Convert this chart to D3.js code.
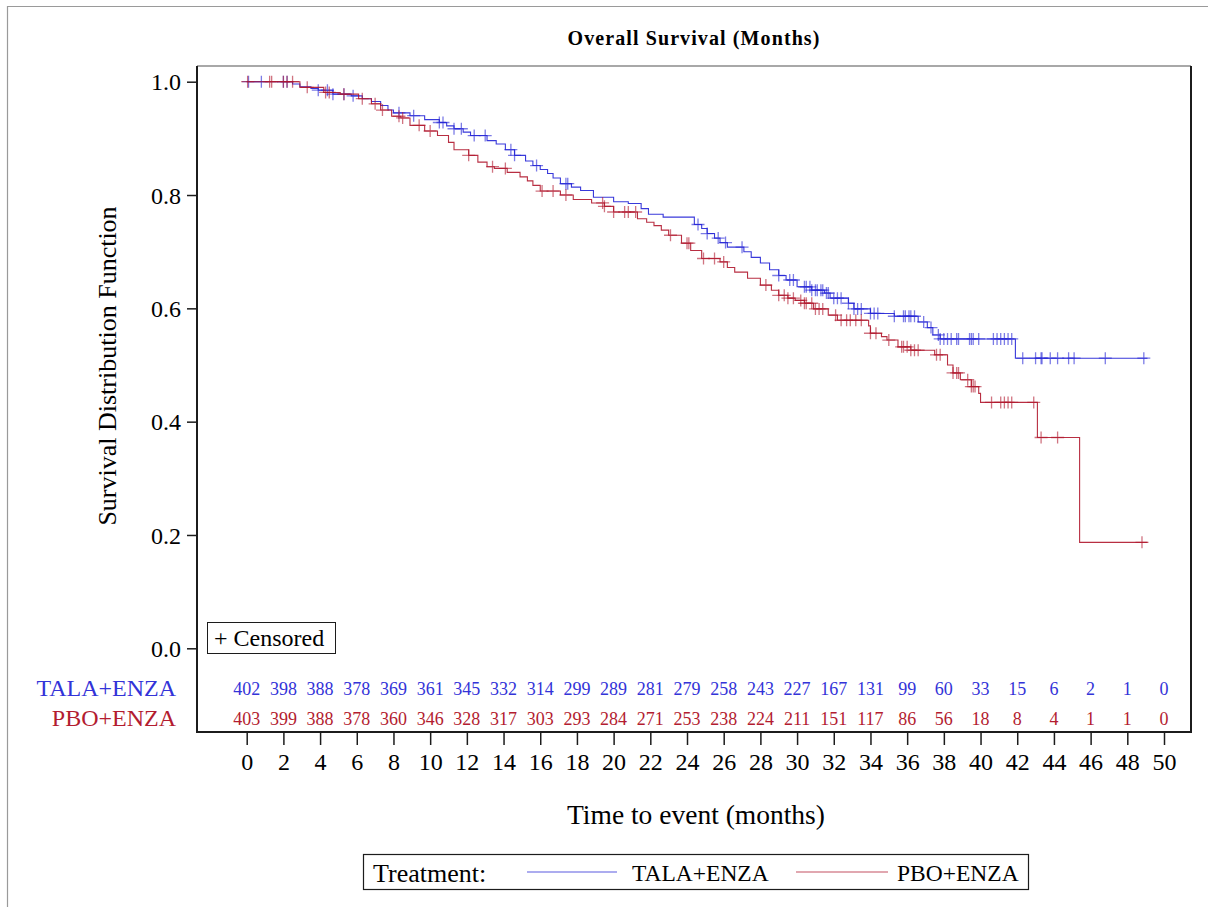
<!DOCTYPE html>
<html>
<head>
<meta charset="utf-8">
<script src="https://cdn.jsdelivr.net/npm/d3@7"></script>
<style>
  html, body { margin: 0; padding: 0; background: #fff; }
  svg { display: block; font-family: "Liberation Serif", "Times New Roman", serif; }
</style>
</head>
<body>
<svg id="chart" width="1208" height="907"></svg>
<script>
// Kaplan-Meier step points: time (months) and survival after each event
const talaTime = [0, 2.5, 2.9, 3.5, 3.9, 4.7, 5.7, 6.3, 6.8, 7.3, 7.7, 8.0, 8.9, 9.7, 10.5, 10.9, 11.3, 11.8, 12.2, 13.1, 13.6, 14.1, 14.6, 15.2, 15.6, 16.0, 16.4, 16.7, 17.1, 17.7, 18.2, 18.9, 20.0, 20.8, 21.5, 21.9, 22.7, 24.4, 24.8, 25.1, 25.5, 25.8, 26.2, 27.1, 27.5, 28.0, 28.5, 29.0, 29.4, 30.0, 30.8, 31.5, 31.8, 32.8, 33.1, 34.0, 35.3, 36.6, 37.1, 37.4, 37.8, 41.9];
const talaSurv = [1.0, 0.996, 0.991, 0.988, 0.985, 0.978, 0.975, 0.970, 0.965, 0.958, 0.950, 0.945, 0.940, 0.933, 0.928, 0.922, 0.917, 0.911, 0.905, 0.896, 0.890, 0.880, 0.870, 0.860, 0.852, 0.845, 0.838, 0.830, 0.820, 0.814, 0.808, 0.796, 0.788, 0.785, 0.776, 0.766, 0.761, 0.748, 0.741, 0.732, 0.724, 0.716, 0.708, 0.700, 0.690, 0.680, 0.668, 0.658, 0.650, 0.638, 0.632, 0.627, 0.618, 0.609, 0.599, 0.591, 0.586, 0.576, 0.566, 0.553, 0.546, 0.512];
const talaEnd = 49.1;

const pboTime = [0, 2.9, 4.2, 5.1, 6.1, 6.8, 7.3, 7.9, 8.4, 8.9, 9.7, 10.4, 11.0, 11.3, 12.1, 12.6, 13.1, 13.5, 14.2, 14.9, 15.3, 15.6, 16.0, 17.1, 17.8, 18.8, 19.5, 20.0, 21.3, 21.8, 22.2, 22.6, 23.0, 23.7, 24.2, 24.8, 25.8, 26.2, 26.6, 27.3, 28.0, 28.6, 29.0, 29.5, 29.9, 30.4, 30.9, 31.7, 32.2, 33.9, 34.0, 34.6, 34.9, 35.5, 36.2, 37.5, 38.2, 38.5, 38.9, 39.5, 39.9, 40.0, 43.1, 45.4];
const pboSurv = [1.0, 0.990, 0.981, 0.978, 0.970, 0.961, 0.950, 0.939, 0.936, 0.923, 0.913, 0.905, 0.893, 0.880, 0.870, 0.858, 0.850, 0.847, 0.840, 0.832, 0.825, 0.817, 0.807, 0.800, 0.792, 0.786, 0.780, 0.770, 0.758, 0.752, 0.746, 0.738, 0.729, 0.715, 0.702, 0.688, 0.682, 0.672, 0.664, 0.653, 0.641, 0.632, 0.623, 0.618, 0.614, 0.609, 0.599, 0.588, 0.579, 0.569, 0.556, 0.550, 0.544, 0.532, 0.526, 0.518, 0.500, 0.486, 0.474, 0.462, 0.450, 0.434, 0.372, 0.187];
const pboEnd = 49.1;

// Censoring times (months)
const talaCensor = [0.1, 0.8, 2.0, 2.2, 3.9, 4.4, 4.7, 5.3, 5.8, 8.3, 9.1, 10.5, 10.7, 11.3, 11.7, 12.4, 13.0, 14.4, 14.6, 15.8, 17.4, 17.5, 24.6, 25.1, 25.7, 26.1, 27.0, 29.0, 29.6, 29.8, 30.4, 30.5, 30.7, 30.8, 31.0, 31.1, 31.3, 31.4, 31.6, 31.7, 32.0, 32.2, 32.4, 32.8, 33.1, 33.3, 33.5, 34.0, 34.2, 34.4, 35.3, 35.8, 35.9, 36.1, 36.2, 36.4, 36.9, 37.3, 37.7, 37.8, 38.0, 38.2, 38.4, 38.7, 38.8, 39.4, 39.5, 39.6, 39.9, 40.7, 40.9, 41.1, 41.3, 41.5, 41.7, 42.3, 43.0, 43.3, 43.35, 43.8, 44.2, 44.8, 45.1, 46.8, 48.9];
const pboCensor = [0.05, 1.25, 1.36, 2.0, 2.2, 2.5, 3.3, 4.3, 4.5, 5.3, 6.3, 7.0, 7.4, 8.3, 8.5, 9.4, 10.0, 12.1, 13.4, 14.1, 16.1, 16.7, 17.4, 19.4, 19.5, 20.0, 20.6, 20.8, 21.2, 23.1, 24.0, 24.1, 24.9, 25.5, 26.0, 28.3, 29.0, 29.3, 29.5, 29.8, 30.2, 30.4, 30.5, 30.8, 31.0, 31.2, 31.4, 32.1, 32.4, 32.7, 32.9, 33.2, 33.5, 34.0, 34.3, 35.0, 35.7, 35.8, 36.0, 36.2, 36.4, 36.6, 37.6, 37.8, 38.5, 38.7, 38.8, 39.3, 39.5, 39.6, 39.7, 40.6, 41.1, 41.3, 41.5, 41.7, 42.9, 43.3, 44.2, 48.8];

// Number at risk
const riskTimes = d3.range(0, 51, 2);
const talaRisk = [402, 398, 388, 378, 369, 361, 345, 332, 314, 299, 289, 281, 279, 258, 243, 227, 167, 131, 99, 60, 33, 15, 6, 2, 1, 0];
const pboRisk = [403, 399, 388, 378, 360, 346, 328, 317, 303, 293, 284, 271, 253, 238, 224, 211, 151, 117, 86, 56, 18, 8, 4, 1, 1, 0];

const yTicks = [0, 0.2, 0.4, 0.6, 0.8, 1.0];
const xTicks = d3.range(0, 51, 2);

const groups = [
  { name: "TALA+ENZA", time: talaTime, surv: talaSurv, end: talaEnd, censor: talaCensor, risk: talaRisk,
    line: "#2424d6", text: "#3333d8" },
  { name: "PBO+ENZA", time: pboTime, surv: pboSurv, end: pboEnd, censor: pboCensor, risk: pboRisk,
    line: "#b0172d", text: "#b31c30" }
];

const svg = d3.select("#chart");

// page border
svg.append("line").attr("x1", 7).attr("x2", 1208).attr("y1", 6.5).attr("y2", 6.5)
  .attr("stroke", "#9a9a9a").attr("stroke-width", 1.2);
svg.append("line").attr("x1", 7.5).attr("x2", 7.5).attr("y1", 6).attr("y2", 907)
  .attr("stroke", "#9a9a9a").attr("stroke-width", 1.2);

const frame = { left: 197, top: 66, right: 1191, bottom: 732 };
const x = d3.scaleLinear().domain([0, 50]).range([246.7, 1164]);
const y = d3.scaleLinear().domain([0, 1]).range([648.3, 81.7]);

// title
svg.append("text").attr("x", 694).attr("y", 45).attr("text-anchor", "middle")
  .attr("font-size", 20).attr("font-weight", "bold").attr("letter-spacing", 1.1)
  .text("Overall Survival (Months)");

// frame
svg.append("line").attr("x1", frame.left).attr("x2", frame.right).attr("y1", frame.top).attr("y2", frame.top)
  .attr("stroke", "#a8a8a8").attr("stroke-width", 2);
svg.append("path")
  .attr("d", `M${frame.left},${frame.top}V${frame.bottom}H${frame.right}V${frame.top}`)
  .attr("fill", "none").attr("stroke", "#1c1c1c").attr("stroke-width", 2);

// y axis
const yAxis = svg.append("g").attr("transform", `translate(${frame.left},0)`)
  .call(d3.axisLeft(y).tickValues(yTicks).tickFormat(d3.format(".1f")).tickSize(10).tickPadding(6));
yAxis.select(".domain").remove();
yAxis.selectAll(".tick line").attr("stroke", "#1c1c1c").attr("stroke-width", 1.5);
yAxis.selectAll(".tick text").attr("font-size", 24).attr("font-family", "Liberation Serif")
  .attr("fill", "#000").attr("dy", "0.34em");

// x axis
const xAxis = svg.append("g").attr("transform", `translate(0,${frame.bottom})`)
  .call(d3.axisBottom(x).tickValues(xTicks).tickFormat(d3.format("d")).tickSize(13).tickPadding(8));
xAxis.select(".domain").remove();
xAxis.selectAll(".tick line").attr("stroke", "#1c1c1c").attr("stroke-width", 1.5);
xAxis.selectAll(".tick text").attr("font-size", 24).attr("font-family", "Liberation Serif")
  .attr("fill", "#000");

// axis titles
svg.append("text").attr("x", 696).attr("y", 824).attr("text-anchor", "middle")
  .attr("font-size", 27.5).text("Time to event (months)");
svg.append("text").attr("transform", "translate(116,366) rotate(-90)").attr("text-anchor", "middle")
  .attr("font-size", 26).text("Survival Distribution Function");

// survival curves and censor marks
const stepLine = d3.line().x(d => x(d[0])).y(d => y(d[1])).curve(d3.curveStepAfter);
function survAt(g, t) {
  const i = d3.bisectRight(g.time, t) - 1;
  return g.surv[Math.max(0, i)];
}
const plot = svg.append("g");
groups.forEach(g => {
  const pts = g.time.map((t, i) => [t, g.surv[i]]);
  pts.push([g.end, g.surv[g.surv.length - 1]]);
  plot.append("path").attr("d", stepLine(pts)).attr("fill", "none")
    .attr("stroke", g.line).attr("stroke-width", 1.1).attr("stroke-opacity", 0.9);
  const marks = plot.append("g");
  g.censor.forEach(t => {
    const cx = x(t), cy = y(survAt(g, t));
    marks.append("path")
      .attr("d", `M${cx - 6.5},${cy}H${cx + 6.5}M${cx},${cy - 6}V${cy + 6}`)
      .attr("stroke", g.line).attr("stroke-width", 1.3).attr("stroke-opacity", 0.6).attr("fill", "none");
  });
});

// censored key
svg.append("rect").attr("x", 207.5).attr("y", 622.5).attr("width", 128).attr("height", 31)
  .attr("fill", "#fff").attr("stroke", "#1c1c1c").attr("stroke-width", 1);
svg.append("text").attr("x", 214).attr("y", 646).attr("font-size", 24).attr("fill", "#000")
  .text("+ Censored");

// number-at-risk table
groups.forEach((g, gi) => {
  const base = 695 + gi * 29.5;
  svg.append("text").attr("x", 176).attr("y", base + 1).attr("text-anchor", "end")
    .attr("font-size", 24).attr("fill", g.text).text(g.name);
  svg.append("g").selectAll("text").data(g.risk).join("text")
    .attr("x", (d, i) => x(riskTimes[i])).attr("y", base).attr("text-anchor", "middle")
    .attr("font-size", 18).attr("fill", g.text).text(d => d);
});

// treatment legend
const leg = svg.append("g");
leg.append("rect").attr("x", 363.5).attr("y", 854.5).attr("width", 665).attr("height", 35)
  .attr("fill", "#fff").attr("stroke", "#1c1c1c").attr("stroke-width", 1.2);
leg.append("text").attr("x", 373).attr("y", 882).attr("font-size", 26).text("Treatment:");
const legItems = [
  { g: groups[0], x1: 527, x2: 617, tx: 632 },
  { g: groups[1], x1: 796, x2: 888, tx: 897 }
];
legItems.forEach(it => {
  leg.append("line").attr("x1", it.x1).attr("x2", it.x2).attr("y1", 872).attr("y2", 872)
    .attr("stroke", it.g.line).attr("stroke-width", 1.2).attr("stroke-opacity", 0.75);
  leg.append("text").attr("x", it.tx).attr("y", 881).attr("font-size", 23.5).text(it.g.name);
});
</script>
</body>
</html>
